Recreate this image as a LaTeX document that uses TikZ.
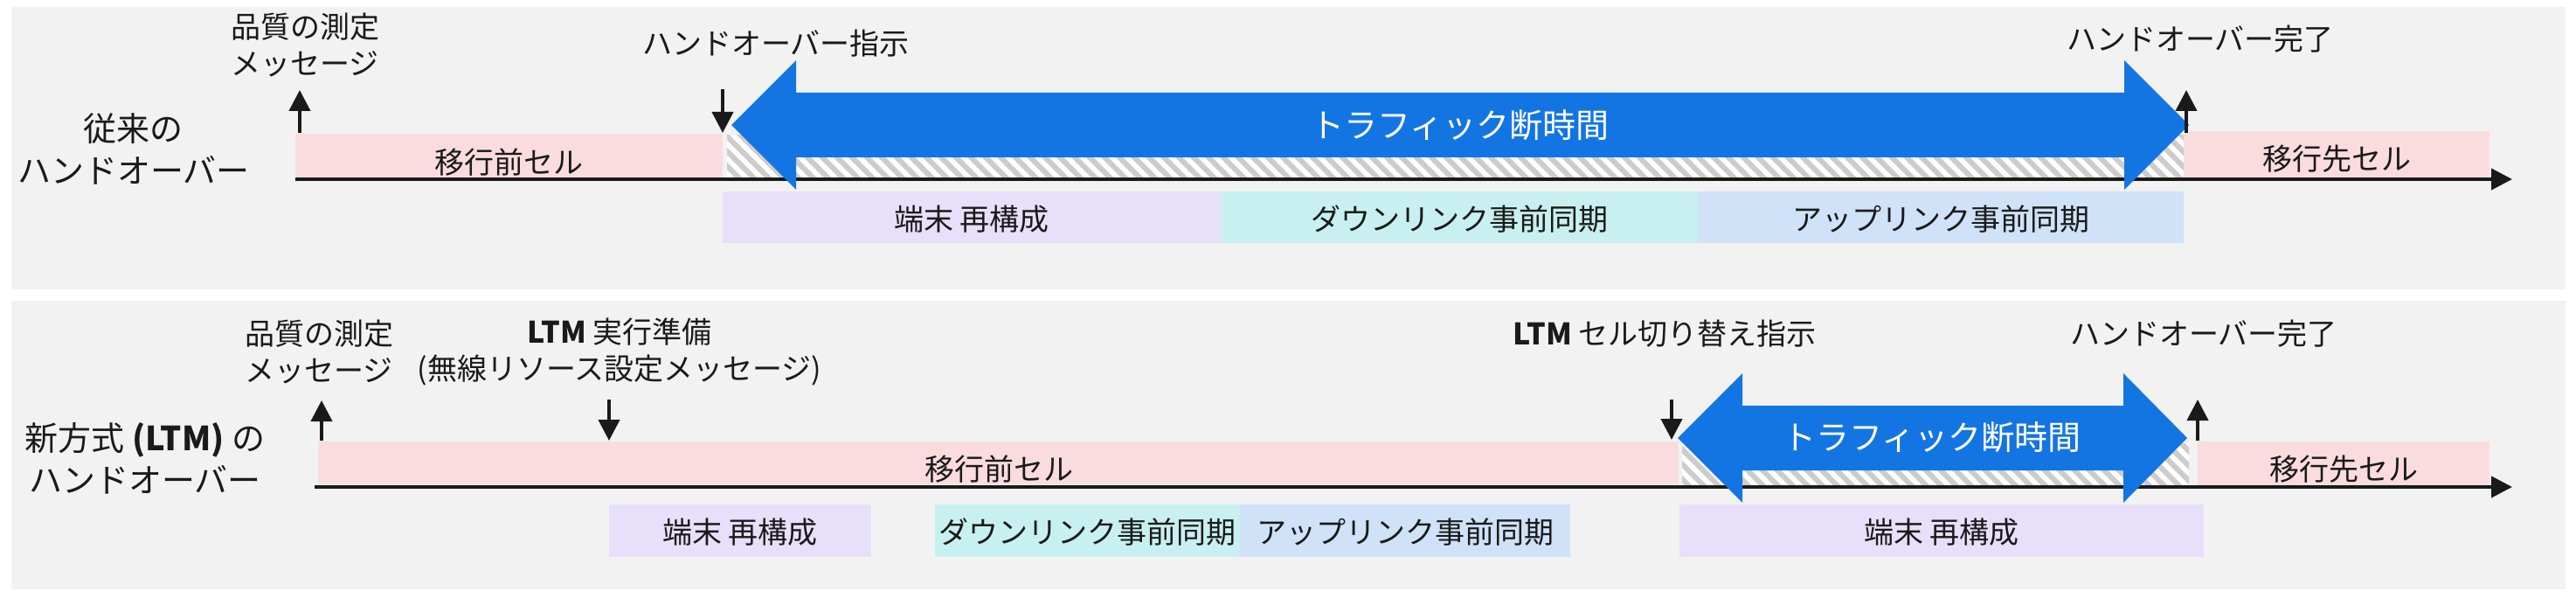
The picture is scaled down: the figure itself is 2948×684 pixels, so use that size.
\documentclass[tikz,border=0pt]{standalone}
\usepackage{fontspec}
\setmainfont{Noto Sans CJK JP}
\usetikzlibrary{arrows.meta}
\definecolor{bgc}{HTML}{F2F2F2}
\definecolor{pinkc}{HTML}{FADCDF}
\definecolor{purpc}{HTML}{E8E0FA}
\definecolor{cyanc}{HTML}{C8F0F0}
\definecolor{lbluec}{HTML}{CFE2F8}
\definecolor{bluec}{HTML}{1375E2}
\definecolor{inkc}{HTML}{1A1A1A}
\definecolor{hatchc}{HTML}{CCCCCC}
\tikzset{
  lbl/.style={font=\fontsize{17}{21}\selectfont, text=inkc, align=center, inner sep=0pt},
  biglbl/.style={font=\fontsize{19}{24}\selectfont, text=inkc, align=center, inner sep=0pt},
  trafficlbl/.style={font=\fontsize{19}{24}\selectfont, text=white, inner sep=0pt},
  evarrow/.style={draw=inkc, line width=2pt, -{Triangle[length=12pt,width=12pt]}},
  timeaxis/.style={draw=inkc, line width=2pt, -{Triangle[length=12pt,width=12pt]}},
  hatchline/.style={draw=hatchc, line width=3pt},
  bigarrow/.style={fill=bluec},
}
\begin{document}
\begin{tikzpicture}[x=0.5pt,y=-0.5pt]
\useasboundingbox (0,0) rectangle (2948,684);
\fill[white] (0,0) rectangle (2948,684);
\fill[bgc] (13,8) rectangle (2936,331);
\fill[bgc] (13,344) rectangle (2936,674);

% ================= top panel =================
\fill[pinkc] (338,153) rectangle (827,203);
\fill[pinkc] (2499,150) rectangle (2849,203);
\begin{scope}
  \clip (832,155) rectangle (2499,203);
  \fill[white] (832,155) rectangle (2499,203);
  \foreach \i in {0,...,102} { \draw[hatchline] ({775+17*\i},150) -- ++(60,60); }
\end{scope}
\fill[purpc] (827,219) rectangle (1397,278);
\fill[cyanc] (1397,219) rectangle (1943,278);
\fill[lbluec] (1943,219) rectangle (2499,278);
\coordinate (ta0) at (338,205);
\coordinate (ta1) at (2875,205);
\draw[timeaxis] (ta0) -- (ta1);
\fill[bigarrow] (837,143) -- (911,69) -- (911,106) -- (2431,106) -- (2431,69) -- (2505,143)
  -- (2431,217) -- (2431,180) -- (911,180) -- (911,217) -- cycle;
\coordinate (tm0) at (343,152); \coordinate (tm1) at (343,103);
\coordinate (th0) at (827,102); \coordinate (th1) at (827,152);
\coordinate (tc0) at (2502,152); \coordinate (tc1) at (2502,103);
\draw[evarrow] (tm0) -- (tm1);
\draw[evarrow] (th0) -- (th1);
\draw[evarrow] (tc0) -- (tc1);

\node[biglbl] (ttitle) at (153,170) {従来の\\ハンドオーバー};
\node[lbl] (tmeas) at (349,51) {品質の測定\\メッセージ};
\node[lbl] (thoc) at (888,50) {ハンドオーバー指示};
\node[lbl] (thod) at (2518,45) {ハンドオーバー完了};
\node[trafficlbl] (ttraf) at (1671,143) {トラフィック断時間};
\node[lbl] (tsrc) at (582,186) {移行前セル};
\node[lbl] (tdst) at (2674,182) {移行先セル};
\node[lbl] (trec) at (1112,251) {端末 再構成};
\node[lbl] (tdl) at (1670,251) {ダウンリンク事前同期};
\node[lbl] (tul) at (2221,251) {アップリンク事前同期};

% ================= bottom panel =================
\fill[pinkc] (364,505) rectangle (1921,554);
\fill[pinkc] (2515,505) rectangle (2849,555);
\begin{scope}
  \clip (1925,507) rectangle (2505,555);
  \fill[white] (1925,507) rectangle (2505,555);
  \foreach \i in {0,...,38} { \draw[hatchline] ({1862+17*\i},502) -- ++(60,60); }
\end{scope}
\fill[purpc] (697,577) rectangle (997,637);
\fill[cyanc] (1070,577) rectangle (1419,637);
\fill[lbluec] (1419,577) rectangle (1797,637);
\fill[purpc] (1922,577) rectangle (2522,637);
\coordinate (ba0) at (360,557);
\coordinate (ba1) at (2875,557);
\draw[timeaxis] (ba0) -- (ba1);
\fill[bigarrow] (1920,501) -- (1994,427) -- (1994,464) -- (2430,464) -- (2430,427) -- (2503,501)
  -- (2430,575) -- (2430,538) -- (1994,538) -- (1994,575) -- cycle;
\coordinate (bm0) at (368,504); \coordinate (bm1) at (368,458);
\coordinate (bp0) at (697,457); \coordinate (bp1) at (697,504);
\coordinate (bs0) at (1913,457); \coordinate (bs1) at (1913,503);
\coordinate (bc0) at (2515,504); \coordinate (bc1) at (2515,457);
\draw[evarrow] (bm0) -- (bm1);
\draw[evarrow] (bp0) -- (bp1);
\draw[evarrow] (bs0) -- (bs1);
\draw[evarrow] (bc0) -- (bc1);

\node[biglbl] (btitle) at (166,524) {新方式 {\bfseries (LTM)} の\\ハンドオーバー};
\node[lbl] (bmeas) at (365,402) {品質の測定\\メッセージ};
\node[lbl] (bprep) at (709,402) {{\bfseries LTM} 実行準備\\(無線リソース設定メッセージ)};
\node[lbl] (bsw) at (1905,382) {{\bfseries LTM} セル切り替え指示};
\node[lbl] (bhod) at (2522,382) {ハンドオーバー完了};
\node[lbl] (bsrc) at (1143,537) {移行前セル};
\node[trafficlbl] (btraf) at (2211,500) {トラフィック断時間};
\node[lbl] (bdst) at (2682,537) {移行先セル};
\node[lbl] (brec1) at (847,609) {端末 再構成};
\node[lbl] (bdl) at (1244,609) {ダウンリンク事前同期};
\node[lbl] (bul) at (1608,609) {アップリンク事前同期};
\node[lbl] (brec2) at (2222,609) {端末 再構成};
\end{tikzpicture}
\end{document}
